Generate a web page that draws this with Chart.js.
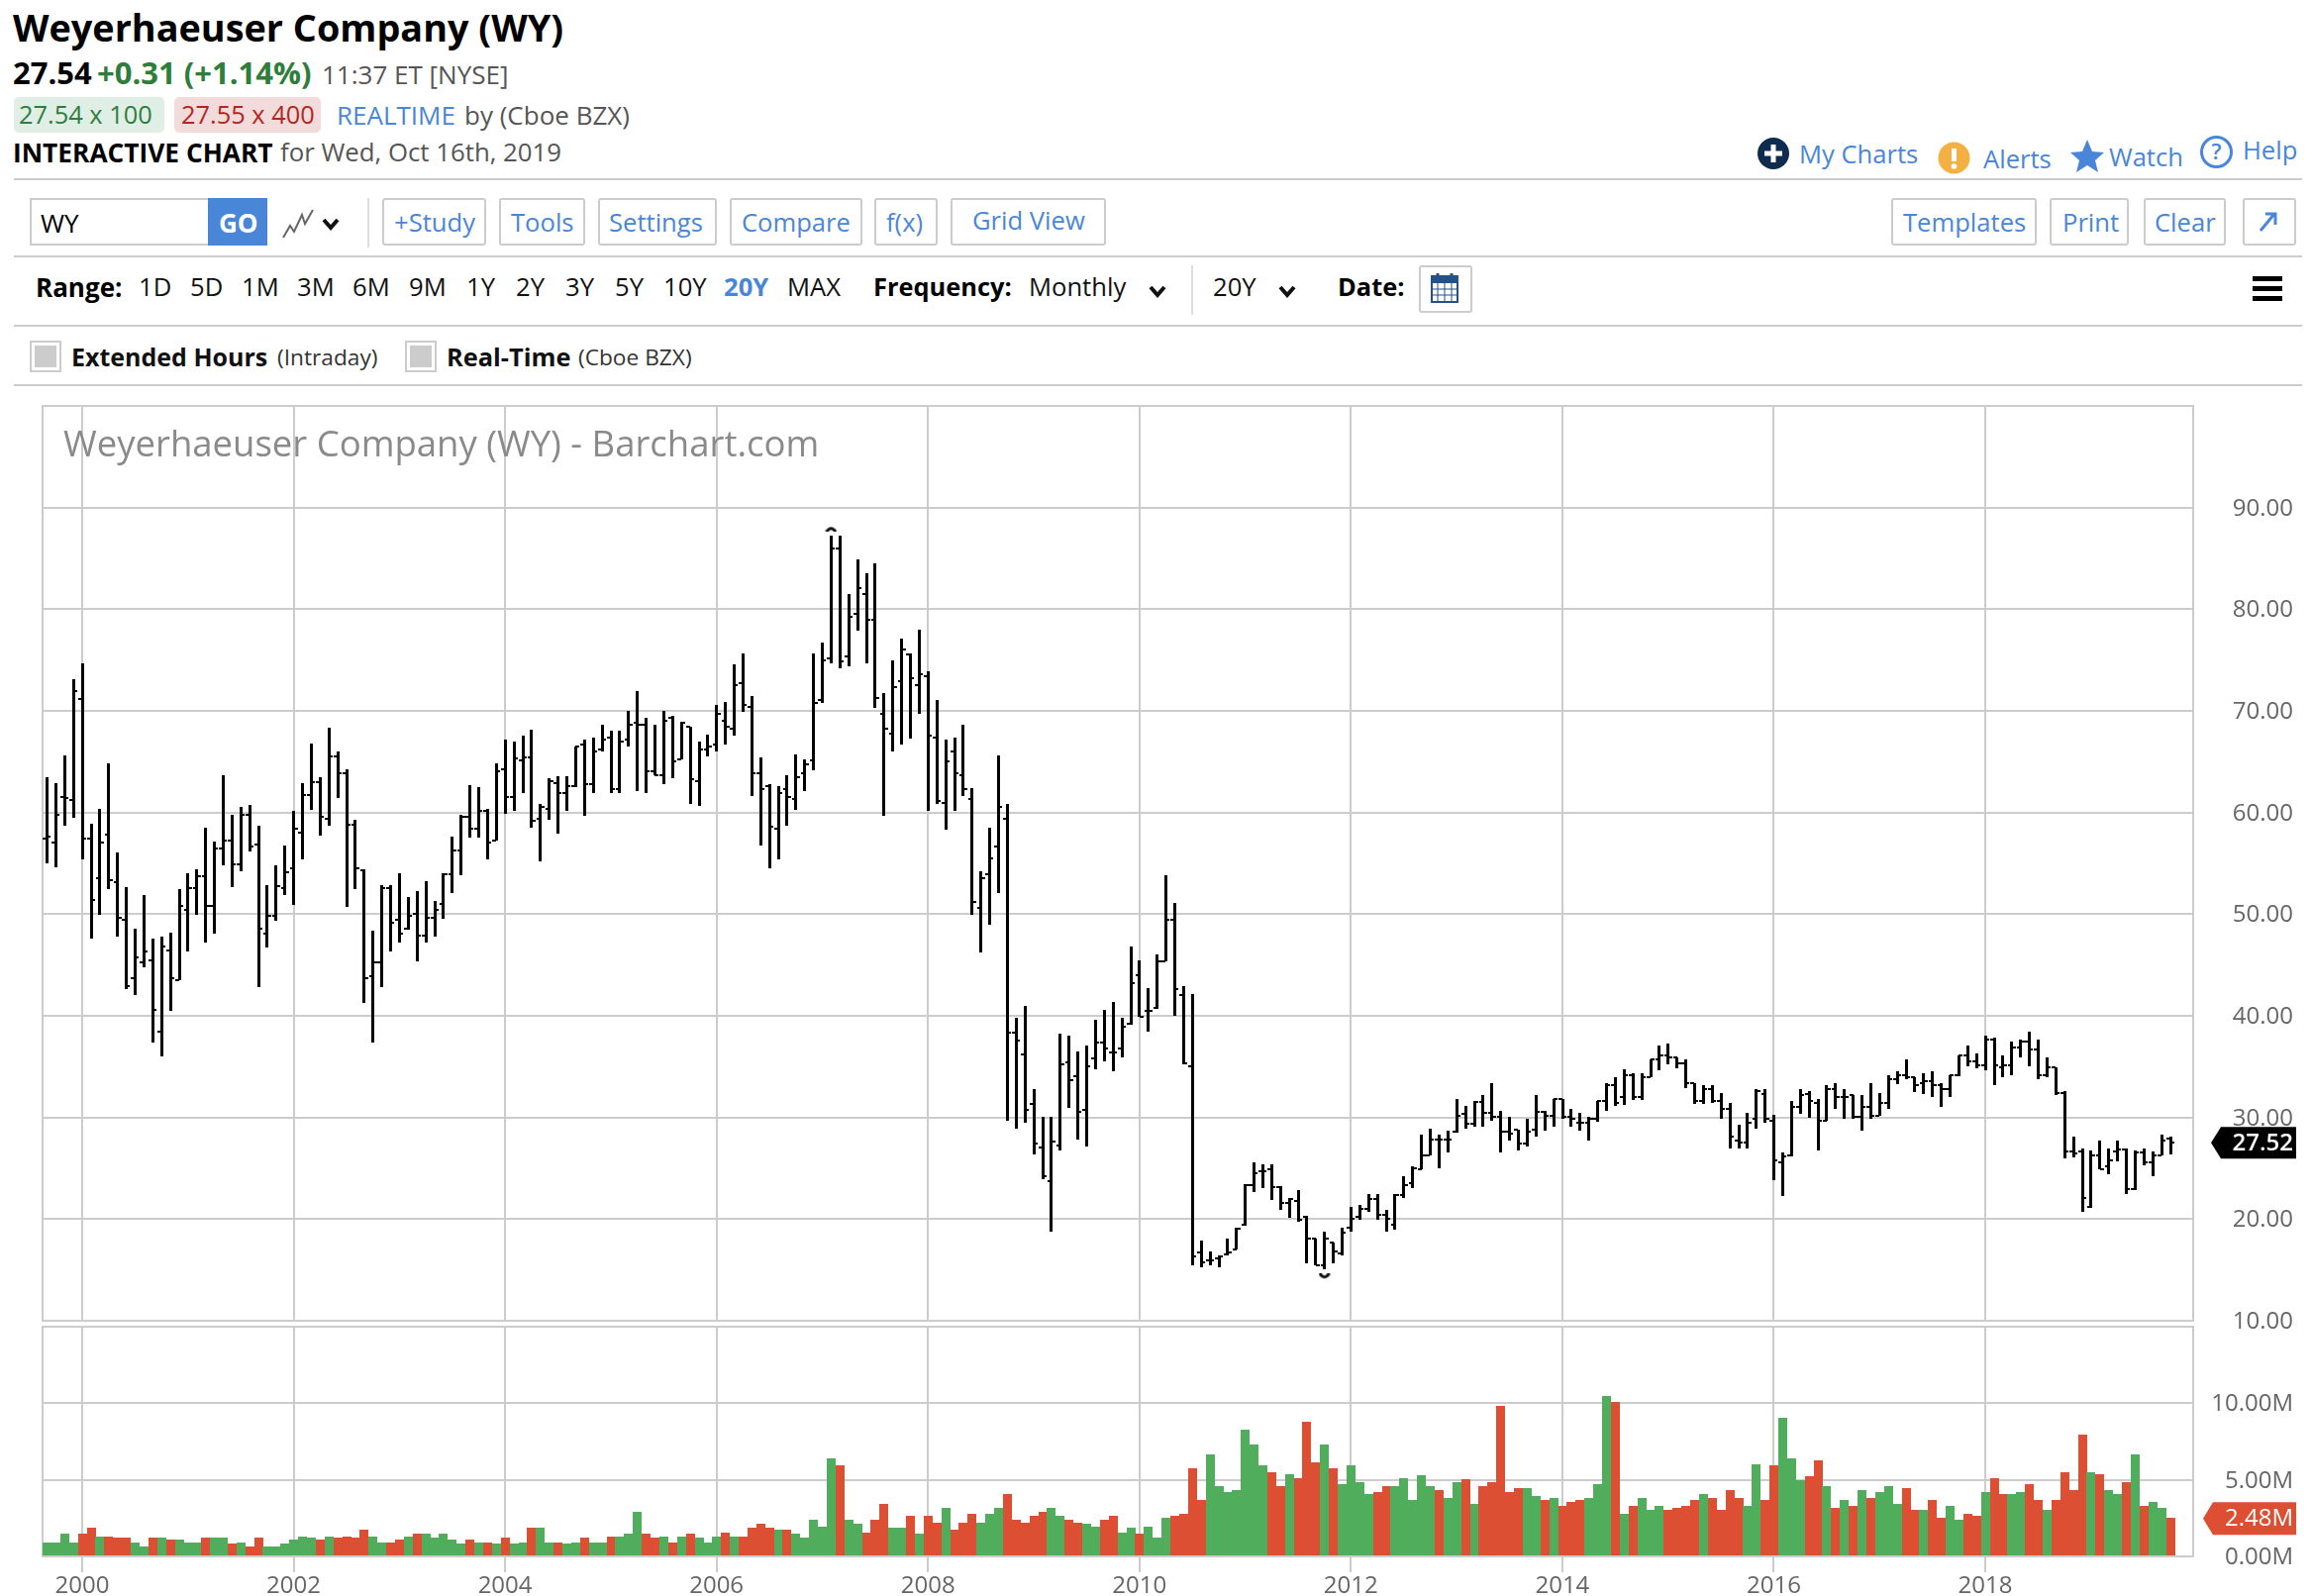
<!DOCTYPE html>
<html><head><meta charset="utf-8">
<script src="https://cdn.jsdelivr.net/npm/chart.js@4/dist/chart.umd.min.js"></script>
<style>
html,body{margin:0;padding:0;background:#fff;width:2334px;height:1612px;overflow:hidden;font-family:"Open Sans","Noto Sans",sans-serif}
.t{position:absolute;white-space:nowrap;line-height:1;font-size:25.6px;color:#555}
.b{font-weight:700;color:#111}
.blue{color:#4a86d8}
.rule{position:absolute;left:14px;width:2311px;height:2px;background:#ccc}
.btn{position:absolute;top:200px;height:44px;border:2px solid #ccc;border-radius:3px;background:#fff;box-sizing:content-box}
.box{position:absolute}
canvas{position:absolute;left:0}
</style></head><body>

<div class="t b" style="left:13px;top:9px;font-size:37.8px;color:#000">Weyerhaeuser Company (WY)</div>
<div class="t b" style="left:13px;top:58px;font-size:31px;color:#000">27.54</div>
<div class="t b" style="left:98px;top:58px;font-size:31px;color:#2e7d3a">+0.31 (+1.14%)</div>
<div class="t" style="left:325px;top:62px;font-size:26px">11:37 ET [NYSE]</div>
<div class="box" style="left:14px;top:98px;width:152px;height:36px;background:#e0efe5;border-radius:5px"></div>
<div class="box" style="left:176px;top:98px;width:148px;height:36px;background:#f2dbda;border-radius:5px"></div>
<div class="t" style="left:19px;top:103px;color:#2f7d3f;font-size:25.4px">27.54 x 100</div>
<div class="t" style="left:183px;top:103px;color:#b3261e;font-size:25.4px">27.55 x 400</div>
<div class="t blue" style="left:340px;top:103px;font-size:26px">REALTIME</div>
<div class="t" style="left:469px;top:103px;font-size:26px">by (Cboe BZX)</div>
<div class="t b" style="left:13px;top:141px;color:#000;font-size:26.3px">INTERACTIVE CHART</div>
<div class="t" style="left:283px;top:141px;font-size:25.8px">for Wed, Oct 16th, 2019</div>

<svg class="box" style="left:1774px;top:138px" width="34" height="34" viewBox="0 0 34 34"><circle cx="17" cy="17" r="16" fill="#0d2c4f"/><path d="M17 8v18M8 17h18" stroke="#fff" stroke-width="5"/></svg>
<div class="t blue" style="left:1817px;top:143px">My Charts</div>
<svg class="box" style="left:1957px;top:143px" width="33" height="33" viewBox="0 0 33 33"><circle cx="16.5" cy="16.5" r="16" fill="#f4b042"/><path d="M16.500 7v13" stroke="#fff" stroke-width="5"/><circle cx="16.500" cy="25" r="2.800" fill="#fff"/></svg>
<div class="t blue" style="left:2003px;top:148px">Alerts</div>
<svg class="box" style="left:2090px;top:140px" width="36" height="34" viewBox="0 0 36 34"><path d="M18 1l5 12 12 1-9 8 3 12-11-7-11 7 3-12-9-8 12-1z" fill="#4a86d8"/></svg>
<div class="t blue" style="left:2130px;top:146px">Watch</div>
<svg class="box" style="left:2222px;top:137px" width="33" height="33" viewBox="0 0 33 33"><circle cx="16.5" cy="16.5" r="15" fill="none" stroke="#4a86d8" stroke-width="3"/><text x="16.5" y="24" text-anchor="middle" font-size="22" font-family="Open Sans" fill="#4a86d8" font-weight="600">?</text></svg>
<div class="t blue" style="left:2265px;top:139px">Help</div>

<div class="rule" style="top:180px"></div>

<div class="box" style="left:30px;top:200px;width:180px;height:44px;border:2px solid #ccc;box-sizing:content-box;border-right:none"></div>
<div class="t" style="left:41px;top:212px;color:#000;font-size:26px">WY</div>
<div class="box" style="left:210px;top:200px;width:60px;height:48px;background:#4a86d8"></div>
<div class="t" style="left:221px;top:212px;color:#fff;font-weight:700;font-size:26px">GO</div>
<svg class="box" style="left:284px;top:210px" width="34" height="32" viewBox="0 0 34 32"><path d="M2 30l7-12 4 6 8-17 3 9 8-14" fill="none" stroke="#666" stroke-width="2"/></svg>
<svg class="box" style="left:324px;top:219px" width="20" height="14" viewBox="0 0 20 14"><path d="M3 3l7 8 7-8" fill="none" stroke="#111" stroke-width="4"/></svg>
<div class="box" style="left:371px;top:200px;width:2px;height:50px;background:#ddd"></div>

<div class="btn" style="left:386px;width:101px"></div><div class="t blue" style="left:398px;top:212px">+Study</div>
<div class="btn" style="left:504px;width:83px"></div><div class="t blue" style="left:516px;top:212px">Tools</div>
<div class="btn" style="left:604px;width:116px"></div><div class="t blue" style="left:615px;top:212px">Settings</div>
<div class="btn" style="left:737px;width:130px"></div><div class="t blue" style="left:749px;top:212px">Compare</div>
<div class="btn" style="left:883px;width:60px"></div><div class="t blue" style="left:895px;top:212px">f(x)</div>
<div class="btn" style="left:960px;width:153px"></div><div class="t blue" style="left:982px;top:210px">Grid View</div>
<div class="btn" style="left:1910px;width:143px"></div><div class="t blue" style="left:1922px;top:212px">Templates</div>
<div class="btn" style="left:2070px;width:76px"></div><div class="t blue" style="left:2083px;top:212px">Print</div>
<div class="btn" style="left:2165px;width:79px"></div><div class="t blue" style="left:2176px;top:212px">Clear</div>
<div class="btn" style="left:2265px;width:50px"></div>
<svg class="box" style="left:2279px;top:212px" width="24" height="24" viewBox="0 0 24 24"><path d="M4 21L18 4M9 4h10v11" fill="none" stroke="#4a86d8" stroke-width="3"/></svg>

<div class="rule" style="top:258px"></div>

<div class="t b" style="left:36px;top:277px;color:#000;font-size:26px">Range:</div>
<div class="t" style="left:140px;top:277px;color:#111">1D</div>
<div class="t" style="left:192px;top:277px;color:#111">5D</div>
<div class="t" style="left:244px;top:277px;color:#111">1M</div>
<div class="t" style="left:300px;top:277px;color:#111">3M</div>
<div class="t" style="left:356px;top:277px;color:#111">6M</div>
<div class="t" style="left:413px;top:277px;color:#111">9M</div>
<div class="t" style="left:471px;top:277px;color:#111">1Y</div>
<div class="t" style="left:521px;top:277px;color:#111">2Y</div>
<div class="t" style="left:571px;top:277px;color:#111">3Y</div>
<div class="t" style="left:621px;top:277px;color:#111">5Y</div>
<div class="t" style="left:670px;top:277px;color:#111">10Y</div>
<div class="t" style="left:731px;top:277px;color:#4a86d8;font-weight:700">20Y</div>
<div class="t" style="left:795px;top:277px;color:#111">MAX</div>
<div class="t b" style="left:882px;top:277px;color:#000;font-size:25.4px">Frequency:</div>
<div class="t" style="left:1039px;top:277px;color:#111">Monthly</div>
<svg class="box" style="left:1159px;top:287px" width="20" height="14" viewBox="0 0 20 14"><path d="M3 3l7 8 7-8" fill="none" stroke="#111" stroke-width="4"/></svg>
<div class="box" style="left:1203px;top:268px;width:2px;height:50px;background:#ddd"></div>
<div class="t" style="left:1225px;top:277px;color:#111">20Y</div>
<svg class="box" style="left:1290px;top:287px" width="20" height="14" viewBox="0 0 20 14"><path d="M3 3l7 8 7-8" fill="none" stroke="#111" stroke-width="4"/></svg>
<div class="t b" style="left:1351px;top:277px;color:#000;font-size:25.4px">Date:</div>
<div class="box" style="left:1433px;top:268px;width:50px;height:44px;border:2px solid #ccc;border-radius:3px"></div>
<svg class="box" style="left:1444px;top:274px" width="30" height="32" viewBox="0 0 30 32"><rect x="2" y="5" width="26" height="26" fill="#fff" stroke="#235189" stroke-width="2"/><rect x="2" y="5" width="26" height="7" fill="#235189"/><path d="M8 2v7M22 2v7" stroke="#235189" stroke-width="3"/><path d="M2 18h26M2 24h26M8 12v18M15 12v18M22 12v18" stroke="#235189" stroke-width="1"/></svg>
<div class="box" style="left:2275px;top:279px;width:30px;height:5px;background:#000"></div>
<div class="box" style="left:2275px;top:289px;width:30px;height:5px;background:#000"></div>
<div class="box" style="left:2275px;top:299px;width:30px;height:5px;background:#000"></div>

<div class="rule" style="top:328px"></div>

<div class="box" style="left:30px;top:344px;width:28px;height:28px;border:2px solid #ccc"></div>
<div class="box" style="left:35px;top:349px;width:22px;height:22px;background:#ccc"></div>
<div class="t b" style="left:72px;top:348px;font-size:25px">Extended Hours</div>
<div class="t" style="left:280px;top:350px;font-size:22.7px;color:#333">(Intraday)</div>
<div class="box" style="left:409px;top:344px;width:28px;height:28px;border:2px solid #ccc"></div>
<div class="box" style="left:414px;top:349px;width:22px;height:22px;background:#ccc"></div>
<div class="t b" style="left:451px;top:348px;font-size:25.4px">Real-Time</div>
<div class="t" style="left:584px;top:350px;font-size:22.7px;color:#333">(Cboe BZX)</div>

<div class="rule" style="top:388px"></div>

<canvas id="price" style="top:400px"></canvas>
<canvas id="volume" style="top:1335px"></canvas>
<div class="t" style="left:64px;top:429px;font-size:36.5px;color:#8a8a8a">Weyerhaeuser Company (WY) - Barchart.com</div>

<script>
const startYearMonth = "1999-09";
const tickYears = [2000,2002,2004,2006,2008,2010,2012,2014,2016,2018];
const priceTicks = [10,20,30,40,50,60,70,80,90];
const volumeTicks = [0,5,10];
const open = [
57.45,57.05,61.55,61.2,71.2,57.45,53.5,57.85,53.15,49.4,
43.7,45.3,45.5,38.45,46.45,43.5,50.4,52.55,53.75,50.8,
56.45,57.25,54.9,59.8,56.85,48.05,49.8,52.55,54.5,58.05,
61.75,62.95,59.4,65.5,63.9,58.8,54.3,43.9,45.3,52.55,
49.4,48.6,50,47.85,49.6,51,53.9,56.25,59.6,58.45,
60.2,57.25,64.3,61.55,65.1,65.45,59.4,60.4,62.9,61.95,
62.55,66.65,62.75,66.25,67.4,62.35,67.2,68.8,68.6,64.1,
63.7,69.35,65.25,68.45,63.1,66.25,66.65,69,68.2,72.7,
70.35,63.9,62.6,58.45,62.35,61.35,63.9,65.15,71.1,75.2,
85.95,75.4,79.5,81.45,78.95,69.75,67.8,72.9,75.6,72.5,
73.45,67.4,60.95,66.05,63.7,61.35,50.65,53.95,56.7,59.4,
38.35,36.2,31.3,27,23.7,27.2,35.4,34.05,30.75,35.8,
37.35,36.4,36.8,39.2,44,40.5,40.75,45.35,49.45,42.05,
35.05,16.7,15.9,16.1,16.5,17.05,19.4,23.3,24.7,24.9,
23.15,21.55,21.75,20.2,18.1,15.5,17.65,16.65,19.2,20.2,
21,21.95,20.4,19.4,22.35,23.5,24.9,26.25,27.8,27.8,
28.65,30.35,29.4,31.55,30.5,30.05,28.6,28.8,27.45,28.8,
30.6,30.2,31.8,30.05,29.45,29.45,29.85,31.6,33.15,32,
34.15,32,33.95,35.7,36.1,35.9,35.3,33.35,31.6,32.75,
31.6,30.8,27.7,27.5,29.85,32.35,29.65,25.55,26.25,31,
32.35,31.4,29.7,32.75,32,32.2,30.05,31,30.2,31.4,
33.75,34.15,33.95,33.35,33.55,33.15,32.75,34.15,36.1,35.5,
35.1,37.65,34.9,35.1,36.85,37.45,36.65,34.15,34.9,32.4,
26.7,26.7,21.2,26.3,25.15,26.65,26.85,22.95,26.6,25.55,
26.3,27.9];
const high = [
63.4,62.85,65.6,73.05,74.6,58.9,60.3,64.8,56,52.65,
48.55,51.85,47.55,47.75,48.15,52.45,54,54.4,58.5,57.15,
63.6,59.7,60.5,60.7,58.7,52.85,54.8,56.75,60.1,62.85,
66.75,63.45,68.35,66,64.2,59.3,54.4,48.35,52.85,52.85,
54,51.65,52.25,53.25,51.3,54,57.55,59.7,62.65,62.45,
60.3,64.8,67.15,66.95,67.55,68.1,60.8,63.3,63.5,63.5,
66.45,67.1,67.3,68.65,68.05,68.05,70,71.95,69.25,68.65,
70,69.45,68.85,68.45,66.9,67.65,70.6,70.8,74.5,75.65,
71.4,65.35,62.8,62.6,63.6,65.7,65.15,75.65,76.65,87.2,
87.2,81.5,84.85,83.5,84.45,71.75,74.9,77.05,75.65,78,
73.9,71,67.1,67.3,68.65,62.4,54.2,58.5,65.55,60.85,
39.75,40.95,32.75,30,30,38.2,38,36.45,37.05,39.6,
40.55,41.35,39.75,46.8,45.45,42.7,46,53.8,51.1,42.9,
42.1,17.9,16.75,16.35,18.1,19.1,23.4,25.55,25.35,25.35,
23.2,22,22.8,20.25,18.1,18.7,17.7,19.1,21.2,21.4,
22.4,22.4,20.85,22.4,24.15,25.15,28.25,28.85,28.25,28.65,
31.75,31.15,31.55,32.15,33.35,30.6,30.05,28.8,29.85,32.2,
30.6,31.8,31.8,30.8,30.4,30.05,31.6,33.35,33.95,34.7,
34.3,34.3,35.7,37.05,37.25,35.9,35.7,33.35,33.15,33.15,
32.4,31.4,29.25,30.4,32.75,32.75,30.2,26.5,31.6,32.75,
32.55,31.8,33.15,33.35,32.75,32.2,32.2,33.35,32.4,34.15,
34.5,35.7,33.95,34.3,34.5,33.35,34.15,36.1,37.05,36.3,
38,37.85,36.1,37.45,37.65,38.4,37.65,35.9,34.9,32.55,
28.1,26.9,26.7,27.7,26.9,27.7,26.9,26.7,26.9,26.6,
28.3,28.1];
const low = [
55,54.65,58.75,59.55,55.4,47.6,49.95,52.5,47.8,42.7,
42.1,44.85,37.4,36,40.5,43.5,46.4,49.95,47.2,48.15,
54.85,52.7,54.25,56.2,42.9,46.8,49.35,51.9,50.9,55.4,
60.3,57.8,58.75,61.5,50.7,52.5,41.3,37.4,42.9,46.4,
47.2,48.55,45.4,47.2,47.8,49.55,52.1,53.85,57.6,57.6,
55.4,57.25,59.95,60.15,61.9,58.55,55.25,59.35,58,60.15,
62.55,59.75,61.9,66,61.9,61.9,66.55,62.1,61.9,63.7,
62.85,63.45,65.25,60.9,60.7,65.6,66,66.75,67.55,69.9,
61.7,56.8,54.5,55.45,58.75,60.3,62.1,64.2,70.85,74.75,
74.2,74.4,77.9,74.75,70.3,59.75,66,66.75,67.35,69.7,
60.15,60.9,58.35,60.15,61.7,50,46.3,49,52.15,29.7,
28.9,29.5,26.4,24,18.75,26.75,31,27.9,27.15,34.75,
35.55,34.55,35.95,39.2,39.9,38.45,40.75,45.35,40,35.3,
15.45,15.25,15.45,15.25,16.45,17,19.35,22.65,23.05,21.9,
20.9,20.15,19.75,15.65,15.45,15.05,15.65,16.45,18.75,19.95,
20.7,19.95,18.75,18.95,22.1,23.05,24.9,26.25,25,26.6,
28.5,28.9,29.1,29.1,29.7,26.6,27.75,26.8,27.15,28.15,
28.75,29.1,29.9,29.1,28.75,27.75,29.65,30.7,31.2,31.25,
31.75,31.8,33.95,34.7,35.3,34.9,32.9,31.4,31.4,31.45,
29.9,27,27,27,28.9,29.5,23.85,22.3,26.2,30.4,
30,26.8,29.7,30.9,29.9,29.9,28.75,29.9,30.2,30.9,
33.35,33.75,32.55,32.35,32,31.05,32.05,34.05,35.1,34.9,
34.7,33.2,33.95,34.15,35.95,35.1,33.8,33.95,32.25,26,
26.15,20.75,21.15,24.95,24.45,25.75,22.5,22.9,25.35,24.25,
26.3,26.4];
const close = [
57.65,59.8,61.4,71.95,57.45,51.35,57.05,53.35,49.6,42.9,
45.7,46.3,40.6,46.85,43.7,50.8,52.55,53.75,50.8,56.45,
57.25,54.9,59.8,56.65,48.6,49.8,52.75,54.1,58.45,61.75,
62.95,59.6,65.5,63.9,58.8,54.5,43.7,45.3,52.55,49.2,
48.05,49.8,47.85,49.6,50.4,53.9,56.25,59.6,58.45,60.2,
57.05,64.1,61.55,65.3,65.45,59.2,60.6,63.1,61.95,62.55,
66.45,62.75,66.05,67.2,62.35,67,68.6,68.6,64.1,63.7,
69,65.05,68.85,63.3,66.25,66.45,69.75,68.4,72.5,70.55,
63.9,62.35,58.65,61.95,61.55,63.5,64.7,70.75,75,85.95,
74.85,79.3,82.05,78.95,71.3,68.2,72.3,76,73.25,73.65,
67.6,61.1,65.05,63.9,62.35,51.2,53.55,55.5,60.6,38.35,
37.55,30.75,27.4,24.2,27.6,35.2,33.65,30.55,35,37.35,
36.8,36.4,38.95,43.2,39.9,40.5,45.35,49.45,42.6,35.3,
16.3,15.7,15.9,16.3,16.7,19.05,23.3,24.5,24.7,23.15,
21.55,21.95,19.9,18.05,15.5,18.1,16.85,18.7,20,21,
21.95,20.4,20,22.35,23.3,25,26.25,27.8,27.8,27.8,
30.15,29.4,31.55,30.5,30.05,28.6,28.4,27.45,28.6,30.6,
30.2,31.8,30.05,29.85,29.45,29.85,31.6,33.15,31.4,34.15,
32,33.95,35.7,36.1,35.9,35.3,33.35,31.6,32.75,31.6,
30.8,28.1,27.5,29.45,32.55,29.85,25.75,26.15,31,32.2,
31.6,29.7,32.75,32,32,30.05,31,30.2,31.4,33.75,
34.15,33.95,33.15,33.55,33.15,32.75,34.15,36.1,35.5,35.1,
37.65,35.1,35.1,36.85,37.45,36.65,34.15,34.9,32.4,26.7,
26.5,22.05,26.3,24.95,25.75,26.85,22.95,26.6,25.55,26.3,
27.7,27.52];
const volumeM = [
0.9,0.9,1.45,0.9,1.45,1.85,1.3,1.3,1.2,1.2,
0.9,0.65,1.2,1.2,1.05,1.05,0.9,0.9,1.2,1.2,
1.2,0.8,0.9,0.65,1.2,0.65,0.65,0.8,1.05,1.3,
1.2,1.05,1.3,1.2,1.3,1.2,1.7,1.3,0.9,0.9,
1.05,1.3,1.45,1.45,1.2,1.45,1.05,0.8,1.05,0.9,
0.9,0.8,1.2,0.8,0.9,1.85,1.85,0.9,0.9,0.8,
0.9,1.2,0.9,0.9,1.3,1.3,1.45,2.9,1.45,1.2,
1.3,0.9,1.3,1.45,1.2,0.9,1.3,1.55,1.3,1.3,
1.85,2.1,1.85,1.7,1.7,1.45,1.2,2.35,1.95,6.4,
5.9,2.35,2.1,1.55,2.35,3.4,1.85,1.85,2.6,1.45,
2.6,2.2,3.15,1.7,2.2,2.75,2.2,2.75,3.15,4.05,
2.35,2.2,2.6,2.9,3.15,2.6,2.35,2.2,2.1,1.95,
2.35,2.6,1.55,1.85,1.45,1.95,1.2,2.5,2.6,2.75,
5.75,3.65,6.65,4.55,4.2,4.3,8.25,7.3,5.9,5.5,
4.55,5.35,5.1,8.75,6.15,7.3,5.75,4.7,5.9,4.85,
4.05,4.2,4.55,4.55,5.1,3.65,5.25,4.55,4.3,3.8,
4.85,5,3.4,4.55,4.85,9.8,4.2,4.45,4.45,3.9,
3.65,3.8,3.25,3.55,3.65,3.8,4.7,10.45,10.05,2.75,
3.25,3.8,3,3.25,3,3.15,3.25,3.65,4.05,3.8,
3,4.3,3.8,3.25,6,3.65,5.9,9,6.4,4.95,
5.2,6.25,4.55,3.15,3.65,3.25,4.3,3.8,4.2,4.55,
3.4,4.45,3,3,3.65,2.5,3.25,2.35,2.75,2.6,
4.2,5.1,4.05,4.05,4.2,4.7,3.65,3,3.65,5.5,
4.3,7.95,5.5,5.35,4.3,4.05,4.85,6.65,3.25,3.55,
3.15,2.48];
const volumeDirection = [
"GGGGRRGRRR","GGRGRGGGRG","GRGRRGGGGG","GRGRRRRGGR","RGRGGGGGRG",
"RGRGGRGGRG","GRGGRGGGRR","GRGRGGGRGR","RRRGRGGGGG","RGGRRRGGRG",
"RRGRRRGGGR","RRRRGGRRGG","RRGGRGGGRR","RRGGGGGGGR","RGRRRGRGGG",
"GRRGGGGGRG","GRGRRRRRGG","RGRRRGGGRG","RGGGRRRRGR","RRRGGRRGGG",
"RRGRGRGRGG","GRRGRRGGRR","GRRGGRRGRR","RRGRGGRGRG","GR"].join("").split("");
const lastPrice = 27.52;
const lastVolume = 2.48;
const extremeHigh = 87.9, extremeHighIndex = 89;
const extremeLow = 14.35, extremeLowIndex = 145;

const GRID="#cccccc", GREEN="#4fad5b", RED="#dd4f33", TICK="#666666", FONT='"Open Sans"';
const monthIndexOfYear = y => (y-1999)*12-8;
const allIdx = open.map((_,i)=>i);
const xMin=-0.49, xMax=243.6;

function arcMarker(up){
  const c=document.createElement("canvas");c.width=12;c.height=6;
  const g=c.getContext("2d");g.strokeStyle="#111";g.lineWidth=3;g.lineCap="round";g.beginPath();
  if(up){g.moveTo(2,5);g.quadraticCurveTo(6,0,10,5);}else{g.moveTo(2,1);g.quadraticCurveTo(6,6,10,1);}
  g.stroke();return c;
}
const frame={id:"frame",beforeDatasetsDraw(ch){const a=ch.chartArea,g=ch.ctx;g.save();g.strokeStyle=GRID;g.lineWidth=2;g.strokeRect(Math.round(a.left),Math.round(a.top),Math.round(a.right-a.left),Math.round(a.bottom-a.top));g.restore();}};
/* snap drawn marks to whole device pixels so thin bars stay solid black */
const snap={id:"snap",
  beforeDatasetsDraw(ch){const g=ch.ctx,r=Math.round;
    g.rect=function(x,y,w,h){const x0=r(x),y0=r(y);CanvasRenderingContext2D.prototype.rect.call(g,x0,y0,r(w),r(y+h)-y0);};
    g.moveTo=function(x,y){CanvasRenderingContext2D.prototype.moveTo.call(g,r(x),r(y));};
    g.lineTo=function(x,y){CanvasRenderingContext2D.prototype.lineTo.call(g,r(x),r(y));};},
  afterDatasetsDraw(ch){const g=ch.ctx;delete g.rect;delete g.moveTo;delete g.lineTo;}};
function tag(text,value,color,tip,h,weight){return {id:"tag",afterDraw(ch){
  const y=ch.scales.y.getPixelForValue(value),g=ch.ctx;g.save();g.fillStyle=color;g.beginPath();
  g.moveTo(tip,y);g.lineTo(tip+10,y-h/2);g.lineTo(2319,y-h/2);g.lineTo(2319,y+h/2);g.lineTo(tip+10,y+h/2);g.closePath();g.fill();
  g.fillStyle="#fff";g.font=weight+' 24px '+FONT;g.textAlign="right";g.textBaseline="middle";g.fillText(text,2316,y+1);g.restore();}};}

function xScale(showLabels){return {
  type:"linear",min:xMin,max:xMax,offset:false,position:"bottom",
  afterBuildTicks:a=>{a.ticks=tickYears.map(y=>({value:monthIndexOfYear(y)}));},
  afterFit:s=>{s.height=showLabels?40:0;s.paddingLeft=0;s.paddingRight=0;s.paddingTop=0;s.paddingBottom=0;},
  border:{display:false},
  grid:{offset:false,color:GRID,lineWidth:2,drawTicks:showLabels,tickLength:16,tickColor:GRID},
  ticks:{display:showLabels,autoSkip:false,maxRotation:0,padding:0,color:TICK,font:{family:FONT,size:24},
    callback:v=>String(tickYears[tickYears.map(monthIndexOfYear).indexOf(v)])}
};}
function yScale(min,max,ticks,fmt){return {
  type:"linear",min,max,position:"right",
  afterBuildTicks:a=>{a.ticks=ticks.map(v=>({value:v}));},
  afterFit:s=>{s.width=101;s.paddingLeft=0;s.paddingRight=0;s.paddingTop=0;s.paddingBottom=0;},
  border:{display:false},
  grid:{color:GRID,lineWidth:2,drawTicks:false},
  ticks:{crossAlign:"far",padding:0,labelOffset:1,color:TICK,font:{family:FONT,size:24},callback:fmt}
};}

function sizeCanvas(id,h){const c=document.getElementById(id);c.width=2334;c.height=h;c.style.width="2334px";c.style.height=h+"px";return c;}

new Chart(sizeCanvas("price",960),{
  data:{datasets:[
    {type:"bar",data:allIdx.map(i=>({x:i,y:[low[i],high[i]]})),backgroundColor:"#000",barThickness:2,grouped:false,order:3},
    {type:"scatter",data:allIdx.map(i=>({x:i,y:open[i]})),pointStyle:"dash",rotation:180,pointRadius:4,pointBorderWidth:2,borderColor:"#000",pointBorderColor:"#000",order:2},
    {type:"scatter",data:allIdx.map(i=>({x:i,y:close[i]})),pointStyle:"dash",pointRadius:4,pointBorderWidth:2,borderColor:"#000",pointBorderColor:"#000",order:1},
    {type:"scatter",data:[{x:extremeHighIndex,y:extremeHigh}],pointStyle:arcMarker(true),order:0},
    {type:"scatter",data:[{x:extremeLowIndex,y:extremeLow}],pointStyle:arcMarker(false),order:0}
  ]},
  options:{responsive:false,animation:false,devicePixelRatio:1,
    layout:{autoPadding:false,padding:{left:43,right:18,top:10,bottom:26}},
    plugins:{legend:{display:false},tooltip:{enabled:false}},
    scales:{x:xScale(false),y:yScale(10,100,priceTicks,v=>v.toFixed(2))}},
  plugins:[frame,snap,tag(lastPrice.toFixed(2),lastPrice,"#000",2233,32,"600")]
});

new Chart(sizeCanvas("volume",277),{
  data:{datasets:[
    {type:"bar",data:allIdx.map(i=>({x:i,y:volumeM[i]})),barThickness:8,grouped:false,
     backgroundColor:c=>volumeDirection[c.dataIndex]==="G"?GREEN:RED}
  ]},
  options:{responsive:false,animation:false,devicePixelRatio:1,
    layout:{autoPadding:false,padding:{left:43,right:18,top:5,bottom:0}},
    plugins:{legend:{display:false},tooltip:{enabled:false}},
    scales:{x:xScale(true),y:yScale(0,15,volumeTicks,v=>v.toFixed(2)+"M")}},
  plugins:[frame,snap,tag(lastVolume.toFixed(2)+"M",lastVolume,RED,2225,33,"400")]
});
</script>
</body></html>
